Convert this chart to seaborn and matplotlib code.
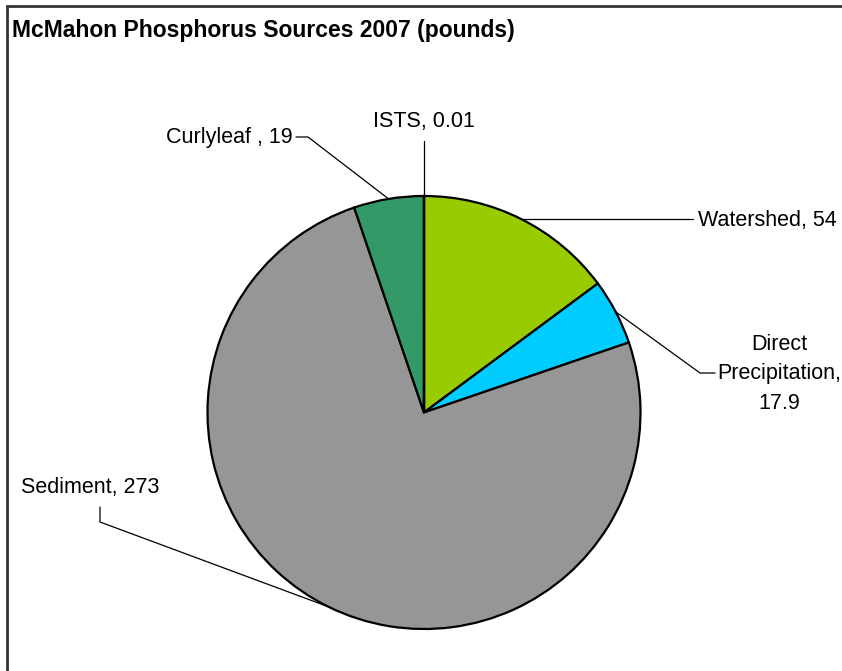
import numpy as np
import matplotlib
matplotlib.use("Agg")
import matplotlib.pyplot as plt
import matplotlib.patches as mpatches
import seaborn as sns

sns.set_theme(style="white")
plt.rcParams['font.family'] = ['Liberation Sans', 'DejaVu Sans']
plt.rcParams['text.color'] = 'black'

# ---- data ----
categories = ["Watershed", "Direct Precipitation", "Sediment", "Curlyleaf", "ISTS"]
values = [54, 17.9, 273, 19, 0.01]
value_labels = ["54", "17.9", "273", "19", "0.01"]
colors = ["#99CC00", "#00CCFF", "#969696", "#339966", "#FFFFFF"]
title = "McMahon Phosphorus Sources 2007 (pounds)"

W, H = 842, 671
CX, CY, R = 424.0, 412.5, 216.5

fig = plt.figure(figsize=(W / 100, H / 100), dpi=100)
fig.patch.set_facecolor("white")
ax = fig.add_axes([0, 0, 1, 1])

wedges, _ = ax.pie(values, colors=colors, startangle=90, counterclock=False,
                   radius=1.0,
                   wedgeprops=dict(edgecolor="black", linewidth=1.6))
ax.set_xlim(-CX / R, (W - CX) / R)
ax.set_ylim(-(H - CY) / R, CY / R)
ax.set_aspect("auto")
ax.axis("off")


def p2d(px, py):
    return (px - CX) / R, (CY - py) / R


def anchor(w):
    mid = np.deg2rad((w.theta1 + w.theta2) / 2.0)
    return np.cos(mid), np.sin(mid)


fs = 15.5
lc = "black"
lw = 0.9

# Watershed
ax_, ay_ = anchor(wedges[0])
ex, _ = p2d(693, 0)
ax.plot([ax_, ex], [ay_, ay_], color=lc, lw=lw)
tx, _ = p2d(698, 0)
ax.text(tx, ay_ - 1.5 / R, f"{categories[0]}, {value_labels[0]}", ha="left", va="center", fontsize=fs)

# Direct Precipitation
ax_, ay_ = anchor(wedges[1])
x1, y1 = p2d(700, 373)
x2, _ = p2d(715, 373)
ax.plot([ax_, x1, x2], [ay_, y1, y1], color=lc, lw=lw)
tx, ty = p2d(779, 374)
ax.text(tx, ty, "Direct\nPrecipitation,\n" + value_labels[1], ha="center", va="center",
        multialignment="center", fontsize=fs, linespacing=1.55)

# Sediment
ax_, ay_ = anchor(wedges[2])
x1, y1 = p2d(100, 522)
_, y2 = p2d(100, 507)
ax.plot([ax_, x1, x1], [ay_, y1, y2], color=lc, lw=lw)
tx, ty = p2d(21, 487)
ax.text(tx, ty, f"{categories[2]}, {value_labels[2]}", ha="left", va="center", fontsize=fs)

# Curlyleaf
ax_, ay_ = anchor(wedges[3])
x1, y1 = p2d(308, 137)
x2, _ = p2d(296, 137)
ax.plot([ax_, x1, x2], [ay_, y1, y1], color=lc, lw=lw)
tx, ty = p2d(293, 137)
ax.text(tx, ty, f"{categories[3]} , {value_labels[3]}", ha="right", va="center", fontsize=fs)

# ISTS
ax_, ay_ = anchor(wedges[4])
_, y1 = p2d(0, 141)
ax.plot([ax_, ax_], [ay_, y1], color=lc, lw=lw)
tx, ty = p2d(424, 121)
ax.text(tx, ty, f"{categories[4]}, {value_labels[4]}", ha="center", va="center", fontsize=fs)

# title
fig.text(12 / W, 1 - 31 / H, title, ha="left", va="center", fontsize=16.5,
         fontweight="bold", color="black")

# chart area border (top and left visible)
fig.patches.append(mpatches.Rectangle((6.5 / W, -0.1), 2.0, 1.1 - 6.0 / H,
                                      transform=fig.transFigure, fill=False,
                                      edgecolor="#333333", linewidth=2.0))

fig.savefig("out.png", dpi=100, facecolor="white")
